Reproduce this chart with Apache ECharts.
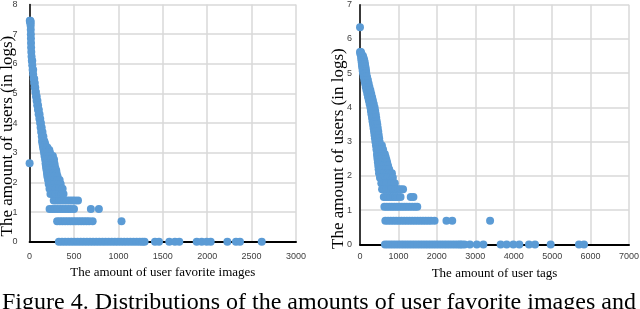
<!DOCTYPE html>
<html>
<head>
<meta charset="utf-8">
<script src="https://cdn.jsdelivr.net/npm/echarts@6/dist/echarts.min.js"></script>
<style>
html,body{margin:0;padding:0;background:#fff;}
#c{width:640px;height:309px;}
</style>
</head>
<body>
<div id="c"></div>
<script>
// ---- Left chart: amount of user favorite images ----
// blob: [y, [x...]]
const favBlob = [
  [7.45,[2,8]],[7.42,[5,12]],[7.36,[10]],[7.28,[12]],[7.15,[13]],[7.0,[14]],[6.85,[15]],
  [6.7,[16]],[6.55,[17]],[6.4,[19]],[6.25,[22]],[6.1,[25,30]],[5.95,[30]],[5.8,[34,40]],
  [5.65,[40]],[5.5,[46,52]],[5.35,[52,58]],[5.2,[58,64]],[5.05,[65,71]],[4.9,[72,80]],
  [4.75,[79,88]],[4.6,[86,95]],[4.45,[94,104]],[4.3,[102,112]],[4.15,[110,120]],[4.0,[118,128]],
  [3.85,[124,136]],[3.7,[130,145]],[3.55,[137,155]],
  [3.40,[140,165]],[3.33,[145,172]],[3.26,[148,178]],[3.18,[152,185,200]],[3.09,[158,190,222]],
  [3.0,[163,195,230]],[2.89,[168,200,235,262]],[2.77,[175,205,240,275]],[2.64,[180,210,245,280]],
  [2.65,[0]],
  [2.56,[184,215,250,282]],[2.48,[188,218,255,290]],[2.40,[192,222,260,300]],[2.30,[196,228,265,305]],
  [2.20,[200,235,270,315]],[2.08,[208,240,275,310,338]],[1.95,[215,245,280,320,350]],
  [1.79,[224,255,290,330,372]]
];
const favRowY = [0, 0.69, 1.1, 1.39, 1.61];
const favRow0 = [330,365,400,435,470,505,540,575,610,645,680,715,750,785,820,855,890,925,960,995,1030,1065,1100,1135,1170,1205,1240,1270,1295,1412,1457,1573,1637,1686,1882,1938,1994,2039,2227,2324,2369,2614];
const favRow1 = [310,340,370,400,430,460,490,520,550,580,610,640,670,710,1035];
const favRow2 = [225,255,285,315,345,375,405,435,465,500,690,780];
const favRow3 = [272,300,330,360,390,420,450,480,510,545];
const favRow4 = [235,265,295,330,360,382];

// ---- Right chart: amount of user tags ----
const tagBlob = [
  [6.34,[0]],
  [5.62,[0,25]],[5.56,[10,40]],[5.5,[27,52,78]],[5.44,[33,63,95]],[5.38,[39,75,110]],[5.31,[45,85,122]],
  [5.25,[50,90,130]],[5.19,[58,100,140]],[5.12,[66,110,150]],[5.06,[73,118,157]],[5.0,[80,122,163]],
  [4.9,[97,140,183]],[4.8,[115,160,205]],[4.7,[132,178,225]],[4.6,[150,197,245]],[4.5,[170,220,270]],
  [4.4,[190,240,292]],[4.3,[210,260,315]],[4.2,[230,282,335]],[4.1,[250,305,358]],[4.0,[271,325,380]],
  [3.9,[285,340,395]],[3.8,[298,352,410]],[3.7,[312,368,422]],[3.6,[326,382,436]],[3.5,[340,395,450]],
  [3.4,[352,405,462]],[3.3,[365,420,475]],[3.2,[377,432,487]],[3.1,[389,445,498]],[3.0,[401,455,510]],
  [2.89,[415,470,530,570]],[2.77,[428,485,545,600]],[2.64,[442,500,560,620,645]],[2.56,[450,510,570,630,665]],
  [2.48,[458,520,580,640,685]],[2.40,[466,530,590,650,705]],[2.30,[475,540,605,670,730]],
  [2.20,[485,550,620,690,760]],[2.08,[495,560,630,700,770,830]],[1.95,[520,585,650,715,785,855]],
  [1.79,[555,620,685,750,815,880,905]]
];
const tagRowY = [0, 0.69, 1.1, 1.39, 1.61];
const tagRow0 = [650,720,790,860,930,1000,1070,1140,1210,1280,1350,1420,1490,1560,1630,1700,1770,1840,1910,1980,2050,2120,2190,2260,2330,2400,2470,2540,2600,2650,2720,2860,3040,3210,3660,3817,3990,4146,4398,4554,4962,5699,5829];
const tagRow1 = [660,730,800,870,940,1010,1080,1150,1220,1290,1360,1430,1500,1570,1640,1710,1780,1850,1940,2250,2400,3385];
const tagRow2 = [635,700,765,830,895,960,1025,1090,1155,1220,1290,1360,1430,1490];
const tagRow3 = [620,680,740,800,860,920,980,1055,1320,1390];
const tagRow4 = [575,630,690,750,810,870,930,990,1050,1120];

const yTitle = 'The amount of users (in logs)';
const favXTitle = 'The amount of user favorite images';
const tagXTitle = 'The amount of user tags';
const caption = 'Figure 4. Distributions of the amounts of user favorite images and';

function buildPoints(blob, rowY, rows) {
  const pts = [];
  blob.forEach(([y, xs]) => xs.forEach(x => pts.push([x, y])));
  rows.forEach((xs, i) => xs.forEach(x => pts.push([x, rowY[i]])));
  return pts;
}
const favData = buildPoints(favBlob, favRowY, [favRow0, favRow1, favRow2, favRow3, favRow4]);
const tagData = buildPoints(tagBlob, tagRowY, [tagRow0, tagRow1, tagRow2, tagRow3, tagRow4]);

const chart = echarts.init(document.getElementById('c'), null, {renderer: 'canvas'});
const labelStyle = {fontFamily: 'Liberation Sans', fontSize: 9, color: '#404040', formatter: v => String(v)};
const splitStyle = {lineStyle: {color: '#d9d9d9', width: 1.5}};
function xAx(idx, max, interval, name, margin, gap) {
  return {
    gridIndex: idx, type: 'value', min: 0, max: max, interval: interval,
    name: name, nameLocation: 'middle', nameGap: gap, nameMoveOverlap: false,
    nameTextStyle: {fontFamily: 'Liberation Serif', fontSize: 13, color: '#000'},
    axisLine: {show: true, onZero: false, lineStyle: {color: '#000', width: 2}},
    axisTick: {show: false},
    axisLabel: Object.assign({margin: margin}, labelStyle),
    splitLine: Object.assign({show: true}, splitStyle)
  };
}
function yAx(idx, max, margin, gap, pad) {
  return {
    gridIndex: idx, type: 'value', min: 0, max: max, interval: 1,
    name: yTitle, nameLocation: 'middle', nameGap: gap, nameMoveOverlap: false,
    nameTextStyle: {fontFamily: 'Liberation Serif', fontSize: 17, color: '#000', padding: pad},
    axisLine: {show: true, onZero: false, lineStyle: {color: '#000', width: 1.5}},
    axisTick: {show: false},
    axisLabel: Object.assign({margin: margin}, labelStyle),
    splitLine: Object.assign({show: true}, splitStyle)
  };
}

chart.setOption({
  animation: false,
  backgroundColor: '#fff',
  grid: [
    {left: 29.6, top: 4.5, width: 266.4, height: 237.2, outerBoundsMode: 'none', containLabel: false},
    {left: 360, top: 4.7, width: 269, height: 239.8, outerBoundsMode: 'none', containLabel: false}
  ],
  xAxis: [
    xAx(0, 3000, 500, favXTitle, 10, 24),
    xAx(1, 7000, 1000, tagXTitle, 8, 23)
  ],
  yAxis: [
    yAx(0, 8, 12, 14, [0, 26, 0, 0]),
    yAx(1, 7, 8, 13, [0, 48, 0, 0])
  ],
  series: [
    {type: 'scatter', xAxisIndex: 0, yAxisIndex: 0, data: favData, symbolSize: 8, clip: false,
     itemStyle: {color: '#5B9BD5', opacity: 1}},
    {type: 'scatter', xAxisIndex: 1, yAxisIndex: 1, data: tagData, symbolSize: 8, clip: false,
     itemStyle: {color: '#5B9BD5', opacity: 1}}
  ],
  graphic: [
    {type: 'text', left: 2, top: 291, silent: true,
     style: {text: caption, font: '24px "Liberation Serif"', fill: '#000'}}
  ]
});
</script>
</body>
</html>
